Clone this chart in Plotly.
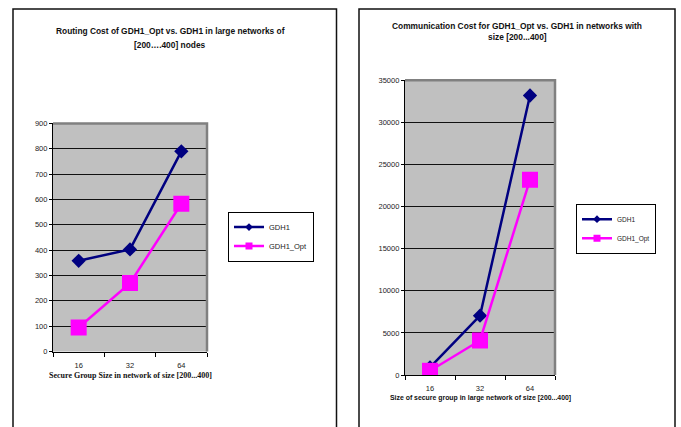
import plotly.graph_objects as go

# Secure group sizes (category axis)
group_sizes = ["16", "32", "64"]

# Routing cost in large networks of 200..400 nodes
routing_gdh1 = [358, 403, 790]
routing_gdh1_opt = [95, 270, 583]

# Communication cost in networks of size 200..400
comm_gdh1 = [900, 7050, 33200]
comm_gdh1_opt = [500, 4100, 23200]

series_names = ["GDH1", "GDH1_Opt"]
series_colors = ["#000080", "#FF00FF"]
series_symbols = ["diamond", "square"]
series_sizes = [11, 16]
legend_sizes = [6, 7]

W, H = 681, 427


def px_x(v):
    return v / W


def px_y(v):
    return 1 - v / H


fig = go.Figure()

panels = [
    dict(xa="x", ya="y", legend="legend", data=[routing_gdh1, routing_gdh1_opt]),
    dict(xa="x2", ya="y2", legend="legend2", data=[comm_gdh1, comm_gdh1_opt]),
]

for p in panels:
    for name, vals, col, sym, sz, lsz in zip(series_names, p["data"], series_colors,
                                             series_symbols, series_sizes, legend_sizes):
        fig.add_trace(go.Scatter(
            x=group_sizes, y=vals, mode="lines+markers", name=name,
            line=dict(color=col, width=2.5),
            marker=dict(symbol=sym, size=sz, color=col, line=dict(width=0)),
            xaxis=p["xa"], yaxis=p["ya"], showlegend=False, hoverinfo="x+y",
        ))
        # small-marker entry for the legend box
        fig.add_trace(go.Scatter(
            x=[None], y=[None], mode="lines+markers", name=name,
            line=dict(color=col, width=2.5),
            marker=dict(symbol=sym, size=lsz, color=col, line=dict(width=0)),
            xaxis=p["xa"], yaxis=p["ya"], showlegend=True, legend=p["legend"],
        ))

tick_font = dict(family="Arial, Liberation Sans", size=7.5, color="#222")

common_x = dict(
    type="category", categoryorder="array", categoryarray=group_sizes,
    range=[-0.5, 2.5], tickson="boundaries", ticks="outside", ticklen=4,
    tickcolor="black", showline=True, linecolor="black", linewidth=1.2,
    showgrid=False, tickfont=tick_font, fixedrange=True, ticklabelstandoff=6,
)
common_y = dict(
    ticks="outside", ticklen=3, tickcolor="black", showline=True,
    linecolor="black", linewidth=1.2, showgrid=True, gridcolor="#111",
    gridwidth=1, zeroline=False, tickfont=tick_font, fixedrange=True,
    tickformat="d",
)

fig.update_layout(
    width=W, height=H,
    margin=dict(l=0, r=0, t=0, b=0),
    paper_bgcolor="white",
    plot_bgcolor="#C0C0C0",
    showlegend=True,
    xaxis=dict(domain=[px_x(53), px_x(207)], anchor="y", **common_x),
    yaxis=dict(domain=[px_y(355), px_y(122)], anchor="x", range=[0, 900],
               dtick=100, **common_y),
    xaxis2=dict(domain=[px_x(405), px_x(555)], anchor="y2", **common_x),
    yaxis2=dict(domain=[px_y(379), px_y(78)], anchor="x2", range=[0, 35000],
                dtick=5000, **common_y),
    legend=dict(x=px_x(228), y=px_y(212), xanchor="left", yanchor="top",
                bgcolor="white", bordercolor="black", borderwidth=1,
                font=dict(family="Arial, Liberation Sans", size=7.5, color="#222"),
                tracegroupgap=0, itemwidth=30),
    legend2=dict(x=px_x(576), y=px_y(204), xanchor="left", yanchor="top",
                 bgcolor="white", bordercolor="black", borderwidth=1,
                 font=dict(family="Arial, Liberation Sans", size=6.5, color="#222"),
                 tracegroupgap=0, itemwidth=30),
)

shapes = []
# chart frames
for x0, x1 in [(13, 336.5), (359, 675)]:
    shapes.append(dict(type="rect", xref="paper", yref="paper",
                       x0=px_x(x0), x1=px_x(x1), y0=-0.05, y1=px_y(5),
                       line=dict(color="#111", width=1.5), layer="below"))
# grey plot-area border on top and right edges
for xr, yr in [("x domain", "y domain"), ("x2 domain", "y2 domain")]:
    shapes.append(dict(type="path", xref=xr, yref=yr,
                       path="M 0,1 L 1,1 L 1,0",
                       line=dict(color="#808080", width=2.5), layer="above"))
fig.update_layout(shapes=shapes)

title_font = dict(family="Arial, Liberation Sans", size=8.4, color="#111")
annotations = [
    dict(text="<b>Routing Cost of GDH1_Opt vs. GDH1 in large networks of</b>",
         x=px_x(170), y=px_y(28)),
    dict(text="<b>[200….400] nodes</b>", x=px_x(170), y=px_y(42)),
    dict(text="<b>Communication Cost for GDH1_Opt vs. GDH1 in networks with</b>",
         x=px_x(517), y=px_y(22.5)),
    dict(text="<b>size [200...400]</b>", x=px_x(517), y=px_y(34)),
]
for a in annotations:
    a.update(xref="paper", yref="paper", showarrow=False, font=title_font,
             xanchor="center", yanchor="middle")

annotations.append(dict(
    text="<b>Secure Group Size in network of size [200...400]</b>",
    x=px_x(130), y=px_y(379), xref="paper", yref="paper", showarrow=False,
    xanchor="center", yanchor="middle",
    font=dict(family="Times New Roman, Liberation Serif", size=8, color="#111")))
annotations.append(dict(
    text="<b>Size of secure group in large network of size [200...400]</b>",
    x=px_x(480), y=px_y(402), xref="paper", yref="paper", showarrow=False,
    xanchor="center", yanchor="middle",
    font=dict(family="Arial, Liberation Sans", size=6.9, color="#111")))
fig.update_layout(annotations=annotations)

fig.write_html("out.html")
